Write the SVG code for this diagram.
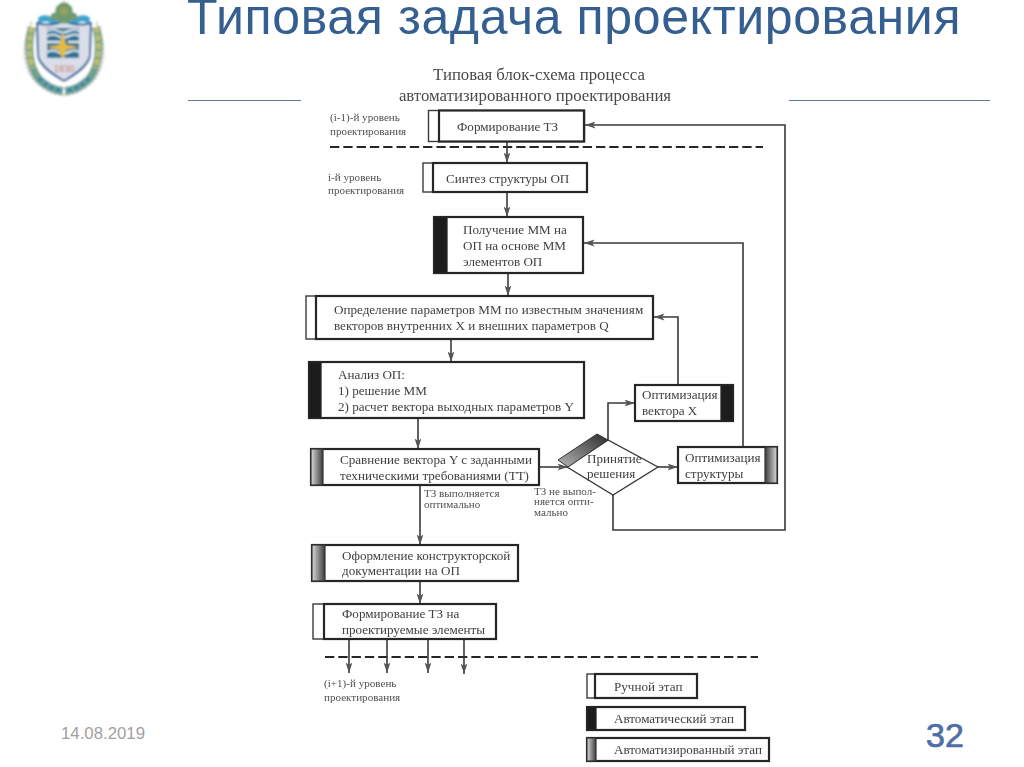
<svg xmlns="http://www.w3.org/2000/svg" width="1024" height="767" viewBox="0 0 1024 767">
<style>
.b{fill:#fff;stroke:#262626;stroke-width:2.2}
.s{fill:#fff;stroke:#3a3a3a;stroke-width:1.4}
.k{fill:#1c1c1c;stroke:#262626;stroke-width:1.3}
.g{fill:url(#gr);stroke:#333;stroke-width:1.2}
.gr{fill:url(#gr2);stroke:#333;stroke-width:1.2}
.t{font-family:"Liberation Serif",serif;font-size:13.1px;fill:#3f3f3f}
.m{font-family:"Liberation Serif",serif;font-size:11.1px;fill:#505050}
.h{font-family:"Liberation Serif",serif;font-size:16.8px;fill:#4a4a4a}
.c{fill:none;stroke:#3a3a3a;stroke-width:1.6;marker-end:url(#a)}
.d{fill:none;stroke:#262626;stroke-width:2.2;stroke-dasharray:9.3 4}
.l{stroke:#5b7ba6;stroke-width:1.2}
</style>
<defs>
<linearGradient id="gr"><stop offset="0" stop-color="#d8d8d8"/><stop offset="1" stop-color="#3c3c3c"/></linearGradient>
<linearGradient id="gr2"><stop offset="0" stop-color="#3c3c3c"/><stop offset="1" stop-color="#d8d8d8"/></linearGradient>
<linearGradient id="gd" x1="0" y1="1" x2="1" y2="0"><stop offset="0" stop-color="#b5b5b5"/><stop offset="1" stop-color="#2c2c2c"/></linearGradient>
<marker id="a" markerWidth="12" markerHeight="10" refX="10.500" refY="5" orient="auto" markerUnits="userSpaceOnUse"><path d="M0 1.600 L10.500 5 L0 8.400 L2.500 5Z" fill="#555"/></marker>
<filter id="soft" x="-2%" y="-2%" width="104%" height="104%"><feGaussianBlur stdDeviation="0.45"/></filter>
<filter id="soft2" x="-5%" y="-5%" width="110%" height="110%"><feGaussianBlur stdDeviation="0.8"/></filter>
</defs>
<rect width="1024" height="767" fill="#fff"/>

<g id="crest" filter="url(#soft2)">
<path d="M32 22 C21 42 22 68 36 82 C44 90 54 95 64 95 C74 95 84 90 92 82 C106 68 107 42 96 22" fill="#fff" stroke="#b9b9b9" stroke-width="1.600" stroke-dasharray="3 1.500"/>
<path d="M32 27 C27 46 29 67 39 79 C46 86 54 90 63 91" fill="none" stroke="#6fa08c" stroke-width="8"/>
<path d="M96 27 C101 46 99 67 89 79 C82 86 74 90 65 91" fill="none" stroke="#6fa08c" stroke-width="8"/>
<path d="M32 27 C28 42 29 58 33 68" fill="none" stroke="#bdbf6a" stroke-width="5" stroke-dasharray="6 2"/>
<path d="M96 27 C100 42 99 58 95 68" fill="none" stroke="#bdbf6a" stroke-width="5" stroke-dasharray="6 2"/>
<path d="M39 78 C45 85 52 89 62 91 M89 78 C83 85 76 89 66 91" fill="none" stroke="#2e86b8" stroke-width="4" stroke-dasharray="4 3"/>
<path d="M38 18 C44 12 52 17 56 20 L60 24 L52 24 C46 20 42 22 39 24Z M90 18 C84 12 76 17 72 20 L68 24 L76 24 C82 20 86 22 89 24Z" fill="#3ba3cf"/>
<path d="M37 23 Q50 27 64 21 Q78 27 91 23 L90 56 C88 66 76 74 64 81 C52 74 40 66 38 56Z" fill="#dadee9" stroke="#1f5a98" stroke-width="2"/>
<rect x="47" y="28" width="32" height="30" fill="#2f7396"/>
<path d="M47 31 Q53 28 58 31 T69 31 T79 31 M47 36 Q53 33 58 36 T69 36 T79 36 M47 42 H60 M68 42 H79 M47 52 Q53 49 58 52 T69 52 T79 52" fill="none" stroke="#e6eef2" stroke-width="2"/>
<path d="M47 47 L59 45 L63 32 L66 45 L79 47 L66 50 L64 58 L62 58 L59 50Z" fill="#e5bb3e"/>
<path d="M50 20 C50 15 52 13 56 12 C54 8 58 4 64 2 C70 4 74 8 72 12 C76 13 78 15 78 20 C72 19 68 22 64 24 C60 22 56 19 50 20Z" fill="#6f9a70"/>
<circle cx="64" cy="11" r="4" fill="#9aa05e"/>
<text x="64" y="72" text-anchor="middle" style="font-family:'Liberation Serif',serif;font-size:10.500px;fill:#c5705f">1830</text>
</g>

<text id="title" x="187" y="34" style="font-family:'Liberation Sans',sans-serif;font-size:50px;letter-spacing:.62px;fill:#365f91">Типовая задача проектирования</text>
<g id="rules">
<line class="l" x1="188" y1="100.500" x2="301" y2="100.500"/>
<line class="l" x1="789" y1="100.500" x2="990" y2="100.500"/>
</g>
<text id="date" x="61" y="739" style="font-family:'Liberation Sans',sans-serif;font-size:16.800px;fill:#a0a0a0">14.08.2019</text>
<text id="page" x="926" y="747" style="font-family:'Liberation Sans',sans-serif;font-size:34px;stroke:#4f6fa8;stroke-width:.7px;fill:#4f6fa8">32</text>

<g filter="url(#soft)">
<g id="heading">
<text class="h" x="539" y="80" text-anchor="middle">Типовая блок-схема процесса</text>
<text class="h" x="535" y="101" text-anchor="middle">автоматизированного проектирования</text>
</g>

<g id="connectors">
<line class="d" x1="330" y1="147" x2="763" y2="147"/>
<line class="d" x1="325" y1="657" x2="758" y2="657"/>
<path class="c" d="M507 141V163"/>
<path class="c" d="M507 192V217"/>
<path class="c" d="M508 273V296"/>
<path class="c" d="M451 339V362"/>
<path class="c" d="M418 418V449"/>
<path class="c" d="M420 485V545"/>
<path class="c" d="M420 581V604"/>
<path class="c" d="M349 639V673"/>
<path class="c" d="M387 639V673"/>
<path class="c" d="M428 639V673"/>
<path class="c" d="M464 639V674"/>
<path class="c" d="M539 467H568"/>
<path class="c" d="M658 467H678"/>
<path class="c" d="M608 441V403H635"/>
<path class="c" d="M678 385V317H654"/>
<path class="c" d="M743 447V243H584"/>
<path class="c" d="M613 495V530H785V125H585"/>
</g>

<g id="n1"><rect class="s" x="428.500" y="110.500" width="156" height="31"/><rect class="b" x="439" y="110.500" width="145" height="31"/><text class="t" x="457" y="131">Формирование ТЗ</text></g>
<g id="n2"><rect class="s" x="423" y="163" width="164" height="29"/><rect class="b" x="433" y="163" width="154" height="29"/><text class="t" x="446" y="183">Синтез структуры ОП</text></g>
<g id="n3"><rect class="b" x="434" y="217" width="149" height="56"/><rect class="k" x="434" y="217" width="13" height="56"/><text class="t" x="463" y="234">Получение ММ на</text><text class="t" x="463" y="250">ОП на основе ММ</text><text class="t" x="463" y="266">элементов ОП</text></g>
<g id="n4"><rect class="s" x="306" y="296" width="347" height="43"/><rect class="b" x="316" y="296" width="337" height="43"/><text class="t" x="334" y="314">Определение параметров ММ по известным значениям</text><text class="t" x="334" y="330">векторов внутренних X и внешних параметров Q</text></g>
<g id="n5"><rect class="b" x="309" y="362" width="275" height="56"/><rect class="k" x="309" y="362" width="12" height="56"/><text class="t" x="338" y="379">Анализ ОП:</text><text class="t" x="338" y="395">1) решение ММ</text><text class="t" x="338" y="411">2) расчет вектора выходных параметров Y</text></g>
<g id="n6"><rect class="b" x="311" y="449" width="228" height="36"/><rect class="g" x="311" y="449" width="12" height="36"/><text class="t" x="340" y="464">Сравнение вектора Y с заданными</text><text class="t" x="340" y="480">техническими требованиями (ТТ)</text></g>
<g id="n7"><rect class="b" x="635" y="385" width="98" height="36"/><rect class="k" x="721" y="385" width="12" height="36"/><text class="t" x="642" y="399">Оптимизация</text><text class="t" x="642" y="415">вектора X</text></g>
<g id="n8"><rect class="b" x="678" y="447" width="99" height="36"/><rect class="gr" x="765" y="447" width="12" height="36"/><text class="t" x="685" y="462">Оптимизация</text><text class="t" x="685" y="478">структуры</text></g>
<g id="n9"><path d="M567 467L608 440L658 467L613 495Z" fill="#fff" stroke="#333" stroke-width="1.300"/><path d="M558 460L597 434L608 440L568 467Z" fill="url(#gd)" stroke="#333" stroke-width="1"/><text class="t" x="587" y="463">Принятие</text><text class="t" x="587" y="478">решения</text></g>
<g id="n10"><rect class="b" x="312" y="545" width="206" height="36"/><rect class="g" x="312" y="545" width="13" height="36"/><text class="t" x="342" y="560">Оформление конструкторской</text><text class="t" x="342" y="575">документации на ОП</text></g>
<g id="n11"><rect class="s" x="313" y="604" width="183" height="35"/><rect class="b" x="324" y="604" width="172" height="35"/><text class="t" x="342" y="618">Формирование ТЗ на</text><text class="t" x="342" y="634">проектируемые элементы</text></g>

<g id="labels">
<text class="m" x="330" y="121">(i-1)-й уровень</text><text class="m" x="330" y="135">проектирования</text>
<text class="m" x="328" y="181">i-й уровень</text><text class="m" x="328" y="194">проектирования</text>
<text class="m" x="424" y="497">ТЗ выполняется</text><text class="m" x="424" y="508">оптимально</text>
<text class="m" x="534" y="495">ТЗ не выпол-</text><text class="m" x="534" y="505">няется опти-</text><text class="m" x="534" y="516">мально</text>
<text class="m" x="324" y="687">(i+1)-й уровень</text><text class="m" x="324" y="701">проектирования</text>
</g>

<g id="legend-manual"><rect class="s" x="587" y="674" width="110" height="24"/><rect class="b" x="595" y="674" width="102" height="24"/><text class="t" x="614" y="691">Ручной этап</text></g>
<g id="legend-auto"><rect class="b" x="587" y="707" width="158" height="23"/><rect class="k" x="587" y="707" width="9" height="23"/><text class="t" x="614" y="723">Автоматический этап</text></g>
<g id="legend-semi"><rect class="b" x="587" y="738" width="182" height="23"/><rect class="g" x="587" y="738" width="9" height="23"/><text class="t" x="614" y="754">Автоматизированный этап</text></g>
</g>
</svg>
